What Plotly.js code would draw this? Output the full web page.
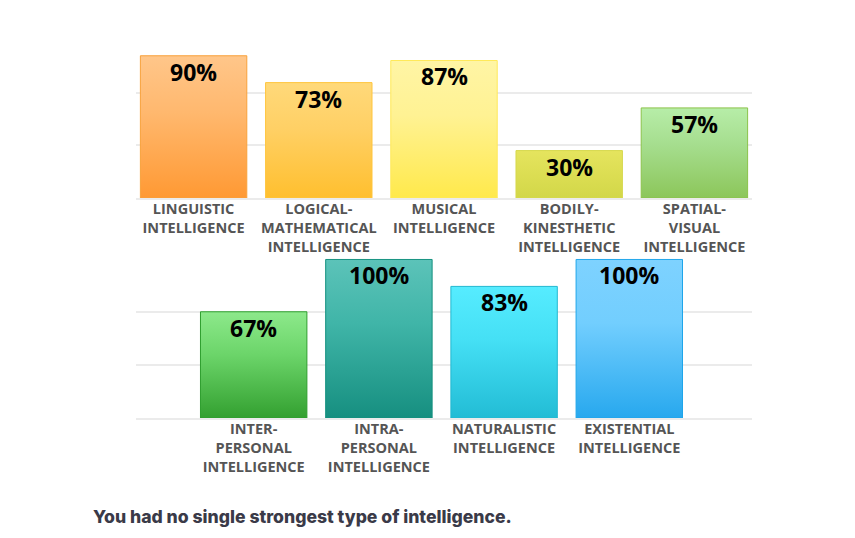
<!DOCTYPE html>
<html><head><meta charset="utf-8">
<script src="https://cdn.plot.ly/plotly-3.0.1.min.js"></script>
<style>html,body{margin:0;padding:0;background:#fff;} #chart{width:855px;height:538px;}</style>
</head><body><div id="chart"></div>
<script>
// ---- data ----
const topCategories = ["LINGUISTIC<br>INTELLIGENCE", "LOGICAL-<br>MATHEMATICAL<br>INTELLIGENCE", "MUSICAL<br>INTELLIGENCE", "BODILY-<br>KINESTHETIC<br>INTELLIGENCE", "SPATIAL-<br>VISUAL<br>INTELLIGENCE"];
const topValues = [90, 73, 87, 30, 57];
const bottomCategories = ["INTER-<br>PERSONAL<br>INTELLIGENCE", "INTRA-<br>PERSONAL<br>INTELLIGENCE", "NATURALISTIC<br>INTELLIGENCE", "EXISTENTIAL<br>INTELLIGENCE"];
const bottomValues = [67, 100, 83, 100];
const summaryText = "You had no single strongest type of intelligence.";

// ---- styles ----
const topGrad = [["#FFC68A","#FFB86E","#FF9933"],["#FFD97A","#FFD065","#FFBF2E"],["#FFF5A5","#FFF293","#FFE94B"],["#E5E45E","#DEDF55","#D2D748"],["#B7EDA8","#A6DE8F","#8CC65A"]];
const topLine = ["#F8A13B","#FFC53D","#FFE95A","#D6D84D","#8BC34A"];
const bottomGrad = [["#8DE98B","#6CD56A","#33A030"],["#5CC3B9","#40B5A8","#168F80"],["#56ECFF","#45E0F5","#22BCD5"],["#7ED2FF","#72CEFE","#27A8EE"]];
const bottomLine = ["#2E9E2E","#13907F","#22B8D0","#1EA5EA"];

const labelFont = {family:"Open Sans", size:14.5, color:"#555555", weight:700};
const valueFont = {family:"Open Sans", size:23, color:"#000000", weight:700};

function barTrace(cats, vals, grads, lines, xa, ya){
  return {
    type:"bar", x:cats, y:vals, xaxis:xa, yaxis:ya,
    marker:{color: grads.map(g => g[1]), line:{color: lines, width:1}},
    hoverinfo:"none", showlegend:false
  };
}
function valueLabels(cats, vals, xa, ya){
  return cats.map((c,i) => ({xref:xa, yref:ya, x:c, y:vals[i], yanchor:"middle", xanchor:"center", yshift:-16,
    showarrow:false, text: vals[i] + "%", font: valueFont}));
}

const gridColor = "#EBEBEB";
const yCommon = {range:[0,100.6], tickvals:[0,33.333,66.667,100], showticklabels:false, gridcolor:gridColor, gridwidth:2, zeroline:false, fixedrange:true};
const xDomain = [136/855, 752/855];

const layout = {
  width:855, height:538, margin:{l:0,r:0,t:0,b:0},
  paper_bgcolor:"#fff", plot_bgcolor:"#fff",
  bargap:0.15,
  font:{family:"Open Sans"},
  xaxis:{domain:xDomain, anchor:"y", range:[-0.46,4.46], tickfont:labelFont, ticks:"", ticklabelstandoff:-3, showline:true, linecolor:gridColor, linewidth:2, fixedrange:true},
  yaxis:Object.assign({domain:[1-198/538, 1-39/538], anchor:"x"}, yCommon),
  xaxis2:{domain:xDomain, anchor:"y2", range:[-0.94,3.98], tickfont:labelFont, ticks:"", ticklabelstandoff:-3, showline:true, linecolor:gridColor, linewidth:2, fixedrange:true},
  yaxis2:Object.assign({domain:[1-418/538, 1-258.5/538], anchor:"x2"}, yCommon),
  annotations: valueLabels(topCategories, topValues, "x", "y")
    .concat(valueLabels(bottomCategories, bottomValues, "x2", "y2"))
    .concat([{xref:"paper", yref:"paper", x:91/855, y:1-516/538, xanchor:"left", yanchor:"middle", showarrow:false, text:summaryText,
    font:{family:"Inter", size:17.6, color:"#3A3A48", weight:800}}])
};

Plotly.newPlot("chart", [
  barTrace(topCategories, topValues, topGrad, topLine, "x", "y"),
  barTrace(bottomCategories, bottomValues, bottomGrad, bottomLine, "x2", "y2")
], layout, {displayModeBar:false, staticPlot:true}).then(function(gd){
  const svg = gd.querySelector("svg.main-svg");
  const ns = "http://www.w3.org/2000/svg";
  let defs = svg.querySelector("defs");
  if(!defs){defs = document.createElementNS(ns,"defs"); svg.insertBefore(defs, svg.firstChild);}
  const allGrads = [topGrad, bottomGrad];
  gd.querySelectorAll(".barlayer .trace.bars").forEach(function(tr, ti){
    tr.querySelectorAll(".point path").forEach(function(p, pi){
      const g = allGrads[ti][pi]; if(!g) return;
      const id = "grad_" + ti + "_" + pi;
      const lg = document.createElementNS(ns,"linearGradient");
      lg.setAttribute("id", id); lg.setAttribute("x1","0"); lg.setAttribute("y1","0"); lg.setAttribute("x2","0"); lg.setAttribute("y2","1");
      [[0,g[0]],[0.4,g[1]],[1,g[2]]].forEach(function(s){
        const st = document.createElementNS(ns,"stop");
        st.setAttribute("offset", s[0]); st.setAttribute("stop-color", s[1]); lg.appendChild(st);
      });
      defs.appendChild(lg);
      p.style.fill = "url(#" + id + ")";
    });
  });
});
</script></body></html>
